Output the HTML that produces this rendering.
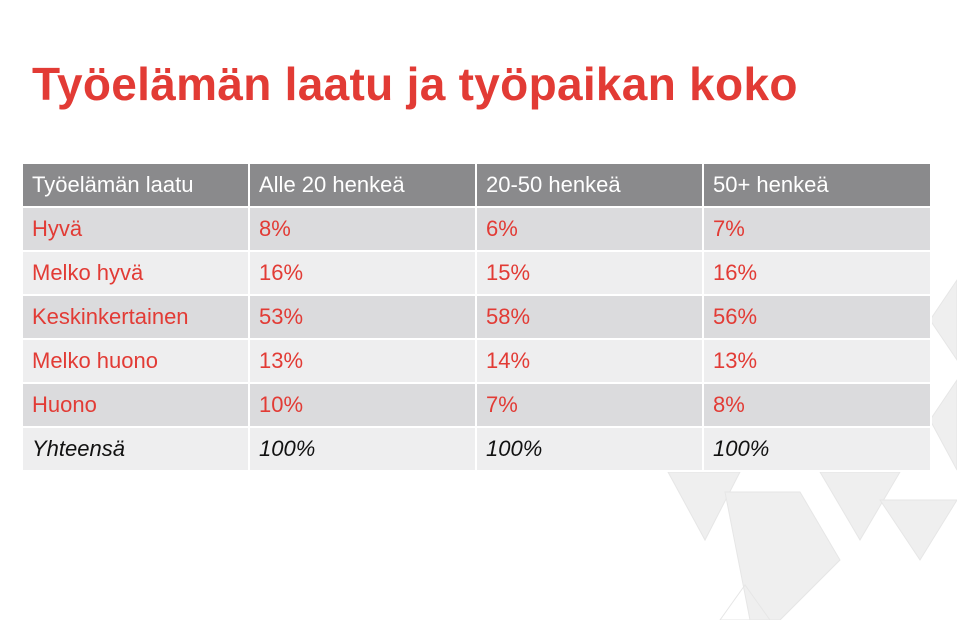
<!DOCTYPE html>
<html><head><meta charset="utf-8"><style>
body{margin:0;width:957px;height:620px;background:#fff;position:relative;overflow:hidden;font-family:"Liberation Sans",sans-serif}
h1{position:absolute;left:32px;top:57px;margin:0;font-size:46px;font-weight:bold;color:#e23b35;white-space:nowrap;letter-spacing:0.3px}
table{position:absolute;left:23px;top:164px;border-collapse:collapse;width:909px;font-size:22px}
td{height:42px;padding:0 0 0 9px;border:2px solid #fff;color:#e23b35;white-space:nowrap}
tr:nth-child(even) td{background:#dbdbdd}
tr:nth-child(odd) td{background:#eeeeef}
tr:first-child td{color:#fff;background:#8a8a8c;border-top:0}
tr:last-child td{color:#111;font-style:italic}
td:first-child{border-left:0;width:216px}
td:nth-child(2),td:nth-child(3){width:216px}
svg{position:absolute;left:0;top:0}
</style></head><body>
<svg width="957" height="620">
<g fill="#efefef" stroke="#e6e6e6" stroke-width="1">
<polygon points="668,472 740,472 705,540"/>
<polygon points="725,492 800,492 840,560 780,620 750,620"/>
<polygon points="820,472 900,472 860,540"/>
<polygon points="880,500 957,500 920,560"/>
<polygon points="930,320 957,280 957,360"/>
<polygon points="930,420 957,380 957,470"/>
<polygon points="720,620 745,585 770,620" fill="none"/>
</g>
</svg>
<h1>Työelämän laatu ja työpaikan koko</h1>
<table>
<tr><td>Työelämän laatu</td><td>Alle 20 henkeä</td><td>20-50 henkeä</td><td>50+ henkeä</td></tr>
<tr><td>Hyvä</td><td>8%</td><td>6%</td><td>7%</td></tr>
<tr><td>Melko hyvä</td><td>16%</td><td>15%</td><td>16%</td></tr>
<tr><td>Keskinkertainen</td><td>53%</td><td>58%</td><td>56%</td></tr>
<tr><td>Melko huono</td><td>13%</td><td>14%</td><td>13%</td></tr>
<tr><td>Huono</td><td>10%</td><td>7%</td><td>8%</td></tr>
<tr><td>Yhteensä</td><td>100%</td><td>100%</td><td>100%</td></tr>
</table>
</body></html>
